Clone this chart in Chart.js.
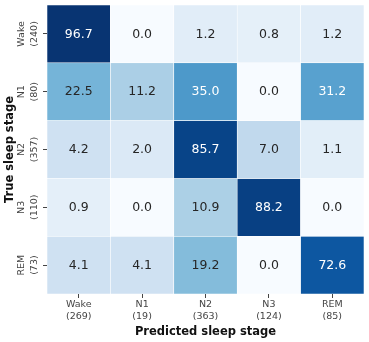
<!DOCTYPE html>
<html>
<head>
<meta charset="utf-8">
<script src="https://cdn.jsdelivr.net/npm/chart.js@4/dist/chart.umd.min.js"></script>
<style>
  html, body { margin: 0; padding: 0; background: #ffffff; }
  #wrap { width: 369px; height: 342px; position: relative; }
</style>
</head>
<body>
<div id="wrap"><canvas id="c"></canvas></div>
<script>
// ---- data ----
const stages = ['Wake', 'N1', 'N2', 'N3', 'REM'];
const predictedCounts = [269, 19, 363, 124, 85];
const trueCounts = [240, 80, 357, 110, 73];
const rowWake = [96.7, 0.0, 1.2, 0.8, 1.2];
const rowN1   = [22.5, 11.2, 35.0, 0.0, 31.2];
const rowN2   = [4.2, 2.0, 85.7, 7.0, 1.1];
const rowN3   = [0.9, 0.0, 10.9, 88.2, 0.0];
const rowREM  = [4.1, 4.1, 19.2, 0.0, 72.6];
const rows = [rowWake, rowN1, rowN2, rowN3, rowREM];

// ---- colour map (matplotlib Blues, sqrt normalisation 0..100) ----
const bluesStops = ['#f7fbff','#deebf7','#c6dbef','#9ecae1','#6baed6','#4292c6','#2171b5','#08519c','#08306b'];
function hex2rgb(h){ return [parseInt(h.slice(1,3),16), parseInt(h.slice(3,5),16), parseInt(h.slice(5,7),16)]; }
const bluesRgb = bluesStops.map(hex2rgb);
function blues(t){
  t = Math.max(0, Math.min(1, t));
  const p = t * (bluesRgb.length - 1);
  const i = Math.min(Math.floor(p), bluesRgb.length - 2);
  const f = p - i;
  const a = bluesRgb[i], b = bluesRgb[i+1];
  return [0,1,2].map(k => Math.round(a[k] + (b[k]-a[k]) * f));
}
function cellRgb(v){ return blues(Math.sqrt(v / 100)); }
function rgbStr(c){ return 'rgb(' + c[0] + ',' + c[1] + ',' + c[2] + ')'; }
function luminance(c){
  const lin = c.map(x => { x /= 255; return x <= 0.03928 ? x / 12.92 : Math.pow((x + 0.055) / 1.055, 2.4); });
  return 0.2126 * lin[0] + 0.7152 * lin[1] + 0.0722 * lin[2];
}

const FONT = "'DejaVu Sans', sans-serif";

const datasets = rows.map((row, r) => ({
  label: stages[r],
  data: row.map(() => 1),
  values: row,
  backgroundColor: row.map(v => rgbStr(cellRgb(v))),
  borderColor: '#ffffff',
  borderWidth: 0.6,
  borderSkipped: false,
  categoryPercentage: 1.0,
  barPercentage: 1.0
}));

const labelPlugin = {
  id: 'cellLabels',
  afterDatasetsDraw(chart) {
    const ctx = chart.ctx;
    ctx.save();
    ctx.font = '12.5px ' + FONT;
    ctx.textAlign = 'center';
    ctx.textBaseline = 'middle';
    chart.data.datasets.forEach((ds, r) => {
      const meta = chart.getDatasetMeta(r);
      meta.data.forEach((el, c) => {
        const v = ds.values[c];
        const lum = luminance(cellRgb(v));
        ctx.fillStyle = lum > 0.408 ? '#262626' : '#ffffff';
        const cy = (el.y + el.base) / 2;
        ctx.fillText(v.toFixed(1), el.x, cy + 0.5);
      });
    });
    ctx.restore();
  },
  afterDraw(chart) {
    // rotated y-axis tick labels (two lines each)
    const ctx = chart.ctx;
    const ys = chart.scales.y;
    ctx.save();
    ctx.font = '9.5px ' + FONT;
    ctx.fillStyle = '#444444';
    ctx.textAlign = 'center';
    ctx.textBaseline = 'middle';
    stages.forEach((s, i) => {
      const py = ys.getPixelForValue(i + 0.5);
      ctx.save();
      ctx.translate(22, py);
      ctx.rotate(-Math.PI / 2);
      ctx.fillText(s, 0, 0);
      ctx.fillText('(' + trueCounts[i] + ')', 0, 12.5);
      ctx.restore();
    });
    ctx.restore();
  }
};

new Chart(document.getElementById('c'), {
  type: 'bar',
  data: {
    labels: stages.map((s, i) => [s, '(' + predictedCounts[i] + ')']),
    datasets: datasets
  },
  options: {
    responsive: true,
    maintainAspectRatio: false,
    animation: false,
    layout: { padding: { top: 5, right: 5, left: 0, bottom: 0 } },
    plugins: { legend: { display: false }, tooltip: { enabled: false } },
    scales: {
      x: {
        type: 'category',
        stacked: true,
        offset: true,
        border: { display: false },
        grid: { offset: false, drawOnChartArea: false, drawTicks: true, tickLength: 4, color: '#444444' },
        ticks: { font: { family: FONT, size: 9.5, lineHeight: 1.25 }, color: '#444444', padding: 1, maxRotation: 0, minRotation: 0, autoSkip: false },
        title: { display: true, text: 'Predicted sleep stage', color: '#111111', font: { family: FONT, size: 11.5, weight: 'bold' }, padding: { top: 0, bottom: 3 } },
        afterFit(scale) { scale.height = 48; }
      },
      y: {
        type: 'linear',
        stacked: true,
        reverse: true,
        min: 0,
        max: 5,
        border: { display: false },
        grid: { drawOnChartArea: false, drawTicks: true, tickLength: 4, color: '#444444' },
        ticks: { display: false },
        afterBuildTicks(scale) { scale.ticks = stages.map((s, i) => ({ value: i + 0.5 })); },
        title: { display: true, text: 'True sleep stage', color: '#111111', font: { family: FONT, size: 11.5, weight: 'bold' }, padding: { top: 3, bottom: 0 } },
        afterFit(scale) { scale.width = 47; }
      }
    }
  },
  plugins: [labelPlugin]
});
</script>
</body>
</html>
